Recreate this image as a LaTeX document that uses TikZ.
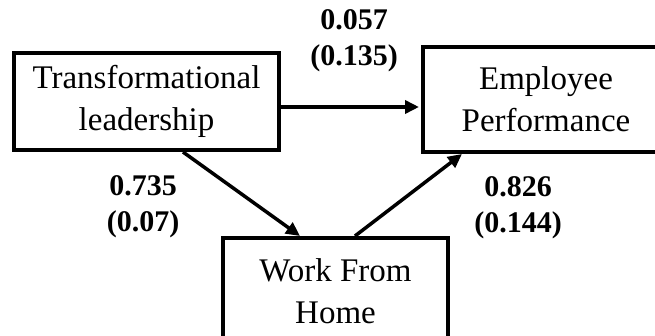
\documentclass[tikz,border=0pt]{standalone}
\usepackage{fontspec}
\setmainfont{Liberation Serif}
\usetikzlibrary{arrows.meta}
\tikzset{
  box/.style={draw, line width=4pt, rectangle, align=center, inner sep=0pt,
    font=\fontsize{33}{42}\selectfont},
  lbl/.style={align=center, inner sep=0pt, font=\fontsize{30}{36}\selectfont\bfseries},
  arr/.style={line width=3.5pt, -{Triangle[length=14pt,width=13pt]}}
}
\begin{document}
\begin{tikzpicture}[x=1pt,y=-1pt]
\useasboundingbox (0,0) rectangle (655,336);
\clip (0,0) rectangle (655,336);
\node[box, minimum width=265pt, minimum height=97pt] (TL) at (146.5,101.5) {Transformational\\leadership};
\node[box, minimum width=246pt, minimum height=105pt] (EP) at (546,99.5) {Employee\\Performance};
\node[box, minimum width=225pt, minimum height=106pt] (WFH) at (335.5,291) {Work From\\Home};
\coordinate (H) at (0,107);
\draw[arr] (TL.east |- H) -- ([xshift=-2pt]EP.west |- H);
\draw[arr] ([xshift=36.5pt]TL.south) -- ([xshift=-35.5pt]WFH.north);
\draw[arr] ([xshift=19.5pt]WFH.north) -- ([xshift=-84pt]EP.south);
\node[lbl] (l1) at (354,40.5) {0.057\\(0.135)};
\node[lbl] (l2) at (143,206.5) {0.735\\(0.07)};
\node[lbl] (l3) at (518,207.5) {0.826\\(0.144)};
\end{tikzpicture}
\end{document}
